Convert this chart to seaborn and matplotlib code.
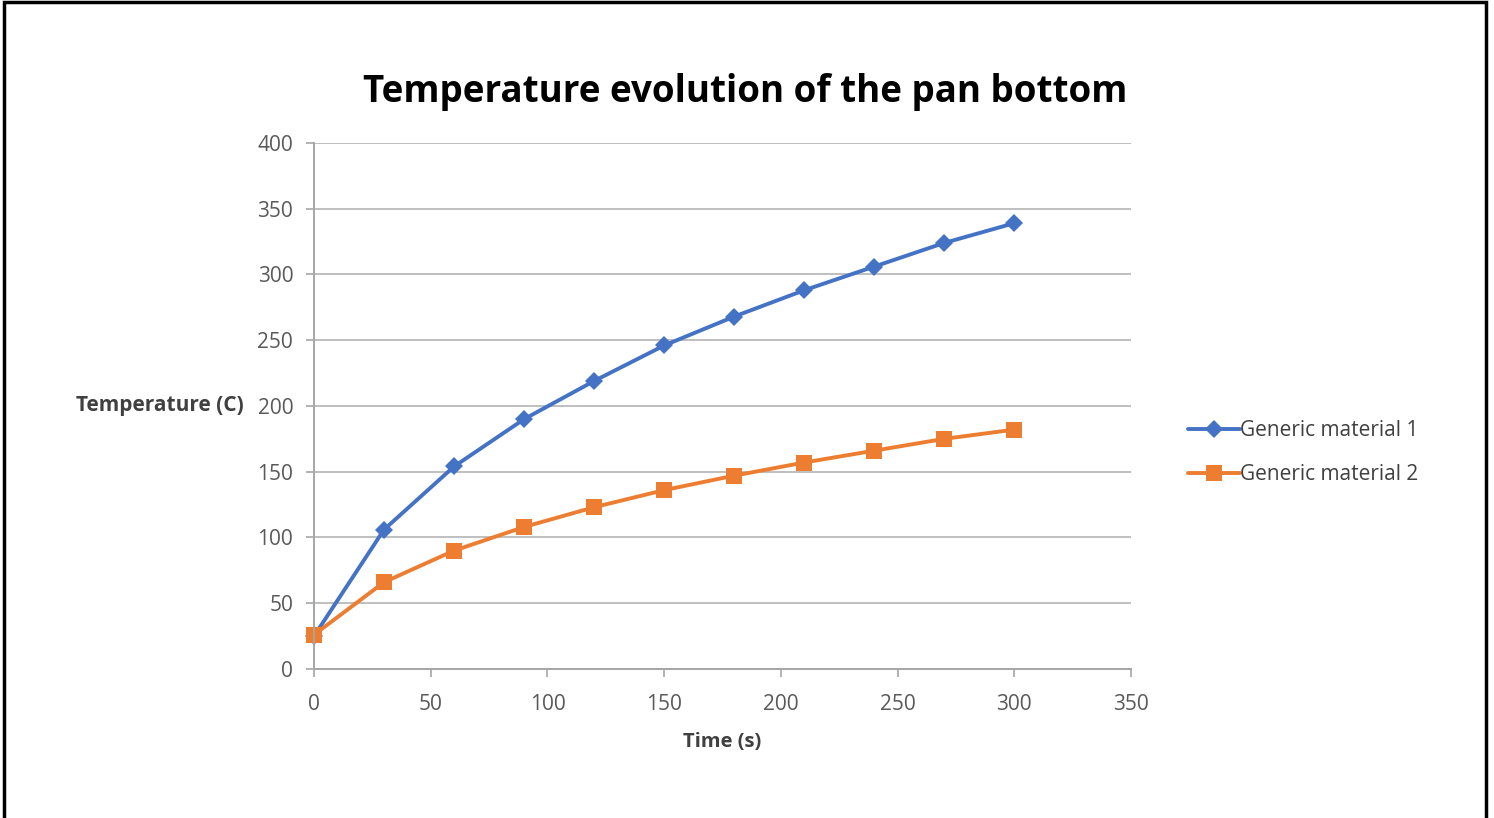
import matplotlib
matplotlib.use("Agg")
import matplotlib.pyplot as plt
import seaborn as sns
import pandas as pd
from matplotlib.patches import Rectangle
from matplotlib.lines import Line2D

time_s = [0, 30, 60, 90, 120, 150, 180, 210, 240, 270, 300]
material_1 = [25, 106, 154, 190, 219, 246, 268, 288, 306, 324, 339]
material_2 = [26, 66, 90, 108, 123, 136, 147, 157, 166, 175, 182]
series_names = ["Generic material 1", "Generic material 2"]
colors = ["#4472C4", "#ED7D31"]
markers = ["D", "s"]
x_ticks = [0, 50, 100, 150, 200, 250, 300, 350]
y_ticks = [0, 50, 100, 150, 200, 250, 300, 350, 400]

df = pd.DataFrame({
    "Time": time_s * 2,
    "Temp": material_1 + material_2,
    "Series": [series_names[0]] * len(time_s) + [series_names[1]] * len(time_s),
})

sns.set_theme(style="white")
plt.rcParams["font.family"] = ["Open Sans", "DejaVu Sans"]

fig = plt.figure(figsize=(14.94, 8.18), dpi=100)
ax = fig.add_axes([0.2102, 0.1822, 0.5468, 0.643])

marker_sizes = [9.5, 12]
lw = 2.8
sns.lineplot(data=df, x="Time", y="Temp", hue="Series", style="Series",
             palette=colors, markers=markers, dashes=False, ax=ax,
             linewidth=lw, markersize=9, markeredgewidth=0, legend=False)
for line, ms in zip(ax.lines, marker_sizes):
    line.set_markersize(ms)
    line.set_clip_on(False)

ax.set_xlim(0, 350)
ax.set_ylim(0, 400)
ax.set_xticks(x_ticks)
ax.set_yticks(y_ticks)
ax.yaxis.grid(True, color="#bfbfbf", linewidth=1.4)
ax.xaxis.grid(False)
ax.set_axisbelow(True)
for s in ["top", "right"]:
    ax.spines[s].set_visible(False)
for s in ["left", "bottom"]:
    ax.spines[s].set_color("#a6a6a6")
    ax.spines[s].set_linewidth(1.4)
ax.tick_params(axis="both", which="both", direction="out", length=6, width=1.2,
               color="#a6a6a6", labelsize=15, labelcolor="#595959")
ax.tick_params(axis="x", bottom=True, pad=12)
ax.tick_params(axis="y", left=True, pad=9)

ax.set_xlabel("Time (s)", fontsize=14.5, fontweight="bold", color="#404040", labelpad=12)
ax.set_ylabel("Temperature (C)", fontsize=15, fontweight="bold", color="#404040",
              rotation=0, ha="right", va="center")
ax.yaxis.set_label_coords(-0.086, 0.5)

fig.text(0.4987, 0.888, "Temperature evolution of the pan bottom", fontsize=26.5,
         fontweight="bold", color="#000000", ha="center", va="center")

handles = [Line2D([0], [0], color=c, marker=m, linewidth=lw,
                  markersize=ms, markeredgewidth=0)
           for c, m, ms in zip(colors, markers, marker_sizes)]
leg = fig.legend(handles, series_names, loc="center left",
                 bbox_to_anchor=(0.7825, 0.447), frameon=False, fontsize=15,
                 handlelength=2.5, handletextpad=0.0, labelspacing=1.1,
                 labelcolor="#404040")

fig.patches.append(Rectangle((0.0027, -0.01), 0.9920, 1.0075, transform=fig.transFigure,
                             fill=False, edgecolor="black", linewidth=2.5))

fig.savefig("out.png", dpi=100)
